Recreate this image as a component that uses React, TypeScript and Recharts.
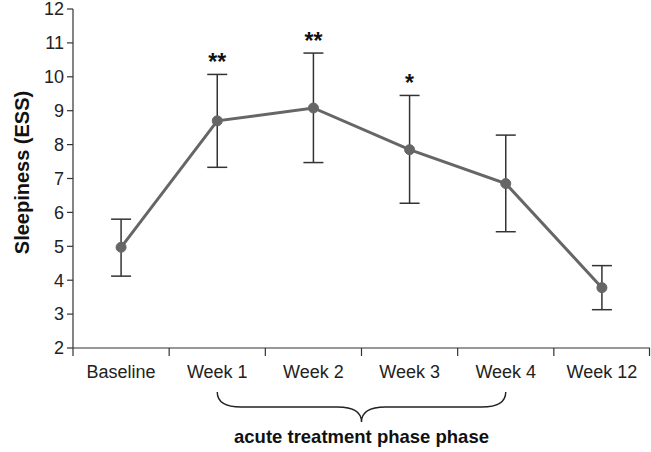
import React from "react"
import { ComposedChart, Line, XAxis, YAxis, ErrorBar, LabelList } from "recharts"

const categories = ["Baseline", "Week 1", "Week 2", "Week 3", "Week 4", "Week 12"]
const meanEss = [4.97, 8.7, 9.08, 7.85, 6.85, 3.78]
const lowerEss = [4.12, 7.33, 7.47, 6.27, 5.43, 3.13]
const upperEss = [5.8, 10.07, 10.7, 9.45, 8.28, 4.43]
const significance = ["", "**", "**", "*", "", ""]
const yTicks = [2, 3, 4, 5, 6, 7, 8, 9, 10, 11, 12]

const FONT = "'Liberation Sans', Arial, sans-serif"
const W = 651
const H = 452
const Y_AXIS_W = 73
const RIGHT = 1
const BAND = (W - Y_AXIS_W - RIGHT) / categories.length

const data = categories.map((name, i) => ({
  name,
  ess: meanEss[i],
  upper: upperEss[i],
  err: [meanEss[i] - lowerEss[i], upperEss[i] - meanEss[i]],
  sig: significance[i],
}))

function XTick(props: any) {
  const { x, y, payload, index } = props
  const last = index === categories.length - 1
  return (
    <g>
      <line x1={x - BAND / 2} y1={y} x2={x - BAND / 2} y2={y + 8} stroke="#333" strokeWidth={1.2} />
      {last && <line x1={x + BAND / 2 - 0.5} y1={y} x2={x + BAND / 2 - 0.5} y2={y + 8} stroke="#333" strokeWidth={1.2} />}
      <text x={x} y={y + 30} textAnchor="middle" fontFamily={FONT} fontSize={18} fill="#222">
        {payload.value}
      </text>
      {index === 1 && (
        <g>
          <path
            d={`M${x},${y + 44} Q${x},${y + 59} ${x + 24},${y + 59} L${x + 1.5 * BAND - 24},${y + 59} Q${x + 1.5 * BAND},${y + 59} ${x + 1.5 * BAND},${y + 74} Q${x + 1.5 * BAND},${y + 59} ${x + 1.5 * BAND + 24},${y + 59} L${x + 3 * BAND - 24},${y + 59} Q${x + 3 * BAND},${y + 59} ${x + 3 * BAND},${y + 44}`}
            fill="none"
            stroke="#222"
            strokeWidth={1.4}
          />
          <text x={x + 1.5 * BAND} y={y + 95} textAnchor="middle" fontFamily={FONT} fontSize={18.5} fontWeight="bold" fill="#111">
            acute treatment phase phase
          </text>
        </g>
      )}
    </g>
  )
}

function SigLabel(props: any) {
  const { x, y, value } = props
  if (!value) return null
  return (
    <text x={x} y={y - 4} textAnchor="middle" fontFamily={FONT} fontSize={23} fontWeight="bold" fill="#111">
      {value}
    </text>
  )
}

export default function App() {
  return (
    <div style={{ position: "absolute", left: 0, top: 0, width: W, height: H, background: "#fff" }}>
      <ComposedChart width={W} height={H} data={data} margin={{ top: 9, right: RIGHT, bottom: 0, left: 0 }}>
        <XAxis
          dataKey="name"
          scale="band"
          height={104}
          tickLine={false}
          tickSize={0}
          tickMargin={0}
          interval={0}
          axisLine={{ stroke: "#333", strokeWidth: 1.2 }}
          tick={<XTick />}
        />
        <YAxis
          width={Y_AXIS_W}
          domain={[2, 12]}
          ticks={yTicks}
          interval={0}
          tickSize={6}
          tickMargin={3}
          axisLine={{ stroke: "#333", strokeWidth: 1.2 }}
          tickLine={{ stroke: "#333", strokeWidth: 1.2 }}
          tick={{ fontFamily: FONT, fontSize: 18, fill: "#222" }}
          label={{
            value: "Sleepiness (ESS)",
            angle: -90,
            position: "insideLeft",
            offset: 0,
            dx: 22,
            dy: -6,
            style: { fontFamily: FONT, fontSize: 20, fontWeight: "bold", fill: "#111", textAnchor: "middle" },
          }}
        />
        <Line
          dataKey="upper"
          stroke="none"
          dot={false}
          activeDot={false}
          isAnimationActive={false}
        >
          <LabelList dataKey="sig" content={<SigLabel />} />
        </Line>
        <Line
          dataKey="ess"
          stroke="#666"
          strokeWidth={3}
          dot={{ r: 5, fill: "#666", stroke: "#666", strokeWidth: 1 }}
          activeDot={false}
          isAnimationActive={false}
        >
          <ErrorBar dataKey="err" width={10} stroke="#333" strokeWidth={1.5} direction="y" />
        </Line>
      </ComposedChart>
    </div>
  )
}
